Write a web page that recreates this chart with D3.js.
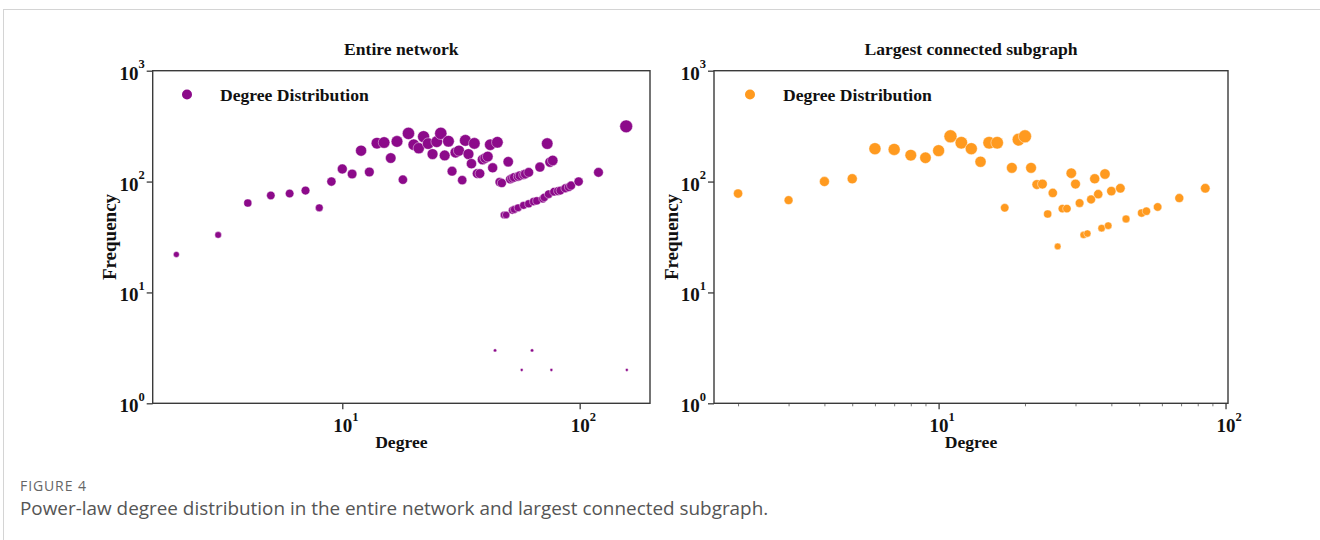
<!DOCTYPE html>
<html>
<head>
<meta charset="utf-8">
<script src="https://cdn.jsdelivr.net/npm/d3@7"></script>
<style>
  body { margin: 0; background: #fff; }
  svg { display: block; }
</style>
</head>
<body>
<svg id="fig" width="1320" height="540"></svg>
<script>
// ---- data: degree / frequency pairs ----
const entireDegree = [2, 3, 4, 5, 6, 7, 8, 9, 10, 11, 12, 13, 14, 15, 16, 17, 18, 19, 20, 21,
  22, 23, 24, 25, 26, 27, 28, 29, 30, 31, 32, 33, 34, 35, 36, 37, 38, 39, 40, 41,
  42, 43, 44, 45, 46, 47, 48, 49, 50, 51, 52, 52, 53, 53, 55, 55, 56, 57, 58, 58,
  59, 61, 61, 63, 64, 66, 68, 70, 71, 73, 74, 75, 76, 77, 78, 81, 83, 87, 90, 92,
  99, 120, 157, 158];
const entireFreq = [22, 33, 64, 75, 78, 83, 58, 100, 130, 117, 190, 122, 222, 225, 163, 230, 104, 272, 215, 200,
  254, 220, 177, 229, 272, 172, 231, 124, 183, 190, 103, 235, 177, 145, 221, 118, 118, 158, 163, 168,
  215, 133, 3, 226, 99, 97, 50, 50, 151, 105, 107, 55, 109, 56, 111, 58, 113, 2, 115, 61,
  117, 121, 63, 3, 66, 67, 135, 70, 72, 220, 77, 150, 2, 155, 81, 82, 83, 87, 89, 92,
  100, 121, 315, 2];

const subgraphDegree = [2, 3, 4, 5, 6, 7, 8, 9, 10, 11, 12, 13, 14, 15, 16, 17, 18, 19, 20, 21,
  22, 23, 24, 25, 26, 27, 28, 29, 30, 31, 32, 33, 34, 35, 36, 37, 38, 39, 40, 43,
  45, 51, 53, 58, 69, 85];
const subgraphFreq = [78, 68, 100, 106, 198, 195, 173, 164, 190, 256, 224, 198, 151, 224, 224, 58, 133, 239, 256, 133,
  94, 95, 51, 79, 26, 57, 57, 119, 95, 64, 33, 34, 69, 106, 77, 38, 117, 40, 82, 87,
  46, 52, 54, 59, 71, 87];

const yTickValues = [1, 10, 100, 1000];
const yTickExponents = ["0", "1", "2", "3"];
const xTickValues = [10, 100];
const xTickExponents = ["1", "2"];
const xMinorTicks = [2, 3, 4, 5, 6, 7, 8, 9, 20, 30, 40, 50, 60, 70, 80, 90];

const titles = ["Entire network", "Largest connected subgraph"];
const legendLabel = "Degree Distribution";
const xLabel = "Degree";
const yLabel = "Frequency";

// ---- drawing ----
const svg = d3.select("#fig");
const serif = "'Liberation Serif', 'Times New Roman', Times, serif";
const axisColor = "#3a3a3a";

// card outline
svg.append("rect")
  .attr("x", 3.5).attr("y", 9.5)
  .attr("width", 1340).attr("height", 560)
  .attr("fill", "none").attr("stroke", "#d4d4d4").attr("stroke-width", 1);

function drawPanel(opt) {
  const g = svg.append("g");
  const x = d3.scaleLog().domain(opt.xDomain).range([opt.left, opt.right]);
  const y = d3.scaleLog().domain([1, 1000]).range([opt.bottom, opt.top]);
  const r = d3.scalePow().exponent(0.29).domain([0, 315]).range([0, opt.rMax]);

  // minor x ticks
  if (opt.minorX) {
    const minor = xMinorTicks.filter(v => x(v) > opt.left && x(v) < opt.right);
    g.append("g")
      .attr("transform", `translate(0,${opt.bottom})`)
      .call(d3.axisBottom(x).tickValues(minor).tickSize(3).tickFormat(""))
      .call(s => s.select(".domain").remove())
      .call(s => s.selectAll("line").attr("stroke", "#777").attr("stroke-width", 1));
  }

  // x axis (major)
  const xAxis = g.append("g")
    .attr("transform", `translate(0,${opt.bottom})`)
    .call(d3.axisBottom(x).tickValues(xTickValues).tickSize(6).tickFormat(""));
  xAxis.select(".domain").remove();
  xAxis.selectAll("line").attr("stroke", axisColor).attr("stroke-width", 1.3);
  xAxis.selectAll(".tick").each(function (d, i) {
    const t = d3.select(this).append("text")
      .attr("x", -9.5).attr("y", 28.5)
      .attr("text-anchor", "start")
      .attr("fill", "#111")
      .style("font-family", serif).style("font-weight", "bold").style("font-size", "19px");
    t.append("tspan").text("10");
    t.append("tspan").attr("dy", -11).style("font-size", "12.5px").text(xTickExponents[i]);
  });

  // y axis
  const yAxis = g.append("g")
    .attr("transform", `translate(${opt.left},0)`)
    .call(d3.axisLeft(y).tickValues(yTickValues).tickSize(6).tickFormat(""));
  yAxis.select(".domain").remove();
  yAxis.selectAll("line").attr("stroke", axisColor).attr("stroke-width", 1.3);
  yAxis.selectAll(".tick").each(function (d, i) {
    const t = d3.select(this).append("text")
      .attr("x", -8).attr("y", 8.5)
      .attr("text-anchor", "end")
      .attr("fill", "#111")
      .style("font-family", serif).style("font-weight", "bold").style("font-size", "19px");
    t.append("tspan").text("10");
    t.append("tspan").attr("dy", -11.5).style("font-size", "12.5px").text(yTickExponents[i]);
  });

  // frame
  g.append("rect")
    .attr("x", opt.left).attr("y", opt.top)
    .attr("width", opt.right - opt.left).attr("height", opt.bottom - opt.top)
    .attr("fill", "none").attr("stroke", axisColor).attr("stroke-width", 1.4);

  // points
  const pts = opt.degree.map((d, i) => ({ d, f: opt.freq[i] }));
  g.append("g").selectAll("circle").data(pts).join("circle")
    .attr("cx", p => x(p.d))
    .attr("cy", p => y(p.f))
    .attr("r", p => r(p.f))
    .attr("fill", opt.color)
    .attr("stroke", "#fff").attr("stroke-opacity", 0.55).attr("stroke-width", 0.8);

  // legend
  g.append("circle")
    .attr("cx", opt.legendX).attr("cy", 94.5).attr("r", 5)
    .attr("fill", opt.color);
  g.append("text")
    .attr("x", opt.legendX + 33).attr("y", 100.5)
    .attr("fill", "#111")
    .style("font-family", serif).style("font-weight", "bold").style("font-size", "17.6px")
    .text(legendLabel);

  const cx = (opt.left + opt.right) / 2;
  // title
  g.append("text")
    .attr("x", cx).attr("y", 55).attr("text-anchor", "middle")
    .attr("fill", "#111")
    .style("font-family", serif).style("font-weight", "bold").style("font-size", "17.6px")
    .text(opt.title);
  // axis titles
  g.append("text")
    .attr("x", cx).attr("y", 448).attr("text-anchor", "middle")
    .attr("fill", "#111")
    .style("font-family", serif).style("font-weight", "bold").style("font-size", "17.6px")
    .text(xLabel);
  g.append("text")
    .attr("transform", `translate(${opt.yLabelX},${(opt.top + opt.bottom) / 2}) rotate(-90)`)
    .attr("text-anchor", "middle")
    .attr("fill", "#111")
    .style("font-family", serif).style("font-weight", "bold").style("font-size", "19px")
    .text(yLabel);
}

drawPanel({
  title: titles[0], degree: entireDegree, freq: entireFreq,
  left: 152.7, right: 650, top: 70.7, bottom: 403.3,
  xDomain: [1.59, 197.8], color: "#8c0a8a", rMax: 6.4,
  minorX: false, legendX: 187, yLabelX: 116
});

drawPanel({
  title: titles[1], degree: subgraphDegree, freq: subgraphFreq,
  left: 714, right: 1228, top: 70.7, bottom: 403.3,
  xDomain: [1.649, 102.0], color: "#ff9a1f", rMax: 6.9,
  minorX: true, legendX: 750, yLabelX: 678
});

// caption
svg.append("text")
  .attr("x", 20).attr("y", 491)
  .attr("fill", "#666")
  .style("font-family", "'Open Sans', 'Noto Sans', sans-serif")
  .style("font-size", "14px").style("letter-spacing", "0.9px")
  .text("FIGURE 4");
svg.append("text")
  .attr("x", 20).attr("y", 515)
  .attr("fill", "#555")
  .style("font-family", "'Open Sans', 'Noto Sans', sans-serif")
  .style("font-size", "18.9px")
  .text("Power-law degree distribution in the entire network and largest connected subgraph.");
</script>
</body>
</html>
